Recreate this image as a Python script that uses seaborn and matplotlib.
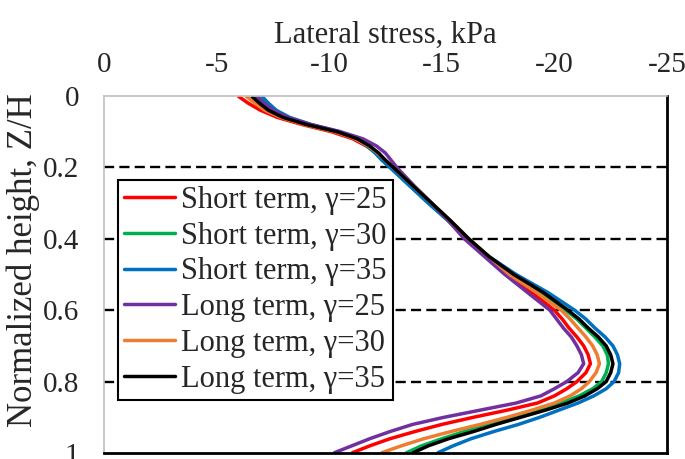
import numpy as np
import pandas as pd
import matplotlib
matplotlib.use("Agg")
import matplotlib.pyplot as plt
import seaborn as sns

# ---- data ----
z = [0, 0.02, 0.04, 0.06, 0.08, 0.10, 0.12, 0.14, 0.16, 0.18, 0.2, 0.25, 0.3, 0.35, 0.4,
     0.45, 0.5, 0.55, 0.6, 0.625, 0.65, 0.675, 0.7, 0.725, 0.75, 0.775, 0.8, 0.82, 0.84,
     0.86, 0.88, 0.9, 0.92, 0.94, 0.96, 0.98, 1.0]

short_25 = [5.95, 6.4, 6.95, 7.7, 8.8, 10.1, 11.05, 11.65, 12.1, 12.45, 12.8, 13.65, 14.5, 15.35, 16.15,
            17.0, 17.9, 19.0, 20.0, 20.35, 20.65, 21.0, 21.3, 21.5, 21.6, 21.4, 21.0, 20.55, 20.0,
            19.25, 17.9, 16.4, 15.0, 13.8, 12.7, 11.8, 11.0]
short_30 = [6.85, 7.15, 7.5, 8.1, 9.1, 10.4, 11.2, 11.7, 12.05, 12.35, 12.7, 13.55, 14.4, 15.3, 16.15,
            17.1, 18.2, 19.4, 20.5, 21.0, 21.4, 21.8, 22.15, 22.35, 22.4, 22.3, 22.1, 21.7, 21.1,
            20.3, 19.3, 18.2, 17.1, 16.0, 15.0, 14.1, 13.4]
short_35 = [7.0, 7.3, 7.65, 8.25, 9.2, 10.45, 11.2, 11.7, 12.05, 12.35, 12.7, 13.55, 14.4, 15.3, 16.15,
            17.1, 18.3, 19.7, 20.9, 21.4, 21.8, 22.25, 22.6, 22.8, 22.9, 22.85, 22.65, 22.3, 21.75,
            21.05, 20.2, 19.35, 18.4, 17.3, 16.3, 15.5, 14.8]
long_25 = [6.75, 7.1, 7.5, 8.15, 9.2, 10.5, 11.5, 12.1, 12.5, 12.75, 13.0, 13.75, 14.55, 15.3, 16.0,
           16.9, 17.8, 18.8, 19.8, 20.1, 20.4, 20.75, 21.0, 21.2, 21.3, 21.05, 20.55, 20.0, 19.4,
           18.3, 16.7, 15.1, 13.7, 12.7, 11.8, 11.0, 10.2]
long_30 = [6.3, 6.7, 7.15, 7.85, 8.9, 10.25, 11.15, 11.75, 12.15, 12.5, 12.85, 13.7, 14.55, 15.4, 16.2,
           17.1, 18.0, 19.2, 20.3, 20.7, 21.05, 21.4, 21.7, 21.9, 22.0, 21.85, 21.55, 21.2, 20.7,
           20.0, 19.0, 17.9, 16.7, 15.4, 14.2, 13.2, 12.3]
long_35 = [6.55, 6.9, 7.3, 7.95, 9.0, 10.35, 11.25, 11.8, 12.2, 12.5, 12.85, 13.7, 14.55, 15.4, 16.2,
           17.1, 18.2, 19.5, 20.6, 21.1, 21.5, 21.95, 22.3, 22.5, 22.6, 22.5, 22.3, 21.9, 21.35,
           20.6, 19.6, 18.5, 17.4, 16.4, 15.3, 14.4, 13.7]

labels = ["Short term, \u03b3=25", "Short term, \u03b3=30", "Short term, \u03b3=35",
          "Long term, \u03b3=25", "Long term, \u03b3=30", "Long term, \u03b3=35"]
series = [short_25, short_30, short_35, long_25, long_30, long_35]
colors = ["#FF0000", "#00B050", "#0070C0", "#7030A0", "#ED7D31", "#000000"]

x_ticks = [0, -5, -10, -15, -20, -25]
y_ticks = [0, 0.2, 0.4, 0.6, 0.8, 1]
y_ticklabels = ["0", "0.2", "0.4", "0.6", "0.8", "1"]

rows = []
for lab, vals in zip(labels, series):
    for zz, v in zip(z, vals):
        rows.append({"series": lab, "stress": -v, "z": zz})
df = pd.DataFrame(rows)

# ---- style ----
sns.set_style("white")
plt.rcParams["font.family"] = ["Liberation Serif", "DejaVu Serif"]

fig = plt.figure(figsize=(6.85, 4.59), dpi=100)
ax = fig.add_axes([104 / 685, 1 - 453 / 459, 563 / 685, 357 / 459])

sns.lineplot(data=df, x="stress", y="z", hue="series", hue_order=labels,
             palette=dict(zip(labels, colors)), sort=False, estimator=None,
             units="series", lw=2.5, ax=ax, legend=False,
             solid_joinstyle="round", solid_capstyle="butt")

ax.set_xlim(0, -25)
ax.set_ylim(1, 0)
ax.set_xticks(x_ticks)
ax.set_xticklabels([str(t) for t in x_ticks])
ax.set_yticks(y_ticks)
ax.set_yticklabels(y_ticklabels)

# dashed grid lines
for yy in [0.2, 0.4, 0.6, 0.8]:
    ax.axhline(yy, color="black", lw=1.7, ls=(0, (4.3, 2.2)), zorder=0.5)

ax.xaxis.tick_top()
ax.xaxis.set_label_position("top")
ax.tick_params(axis="x", length=0, pad=13, labelsize=21)
ax.tick_params(axis="y", length=5, width=1.2, color="black", pad=13, labelsize=21,
               direction="out")
ax.yaxis.get_major_ticks()[0].tick1line.set_visible(False)

ax.set_xlabel("Lateral stress, kPa", fontsize=22)
ax.set_ylabel("Normalized height, Z/H", fontsize=25)
ax.xaxis.set_label_coords(0.5, 1.15)
ax.yaxis.set_label_coords(-0.114, 0.54)

for side in ["top", "left"]:
    ax.spines[side].set_color("#BFBFBF")
    ax.spines[side].set_linewidth(1.2)
for side in ["bottom", "right"]:
    ax.spines[side].set_color("black")
    ax.spines[side].set_linewidth(2)

handles = [plt.Line2D([], [], color=c, lw=2.5) for c in colors]
leg = ax.legend(handles, labels, loc="upper left", bbox_to_anchor=(0.025, 0.765),
                borderaxespad=0, fontsize=22, frameon=True, fancybox=False,
                edgecolor="black", framealpha=1, handlelength=1.65,
                handletextpad=0.22, labelspacing=0.22, borderpad=0.2)
leg.get_frame().set_linewidth(1.5)

fig.savefig("out.png", dpi=100)
